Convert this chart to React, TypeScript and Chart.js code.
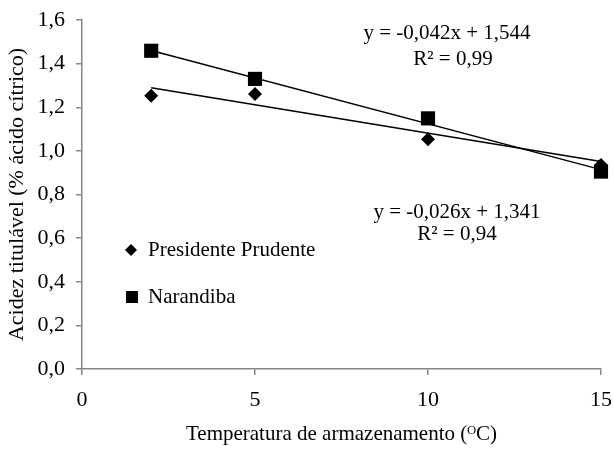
import React, { useEffect, useRef } from "react";
import { Chart, registerables } from "chart.js";

Chart.register(...registerables);

const temperatures = [2, 5, 10, 15];
const presidentePrudente = [1.253, 1.261, 1.053, 0.935];
const narandiba = [1.459, 1.33, 1.149, 0.905];
const trendX = [2, 15];
const trendPresidentePrudente = [1.289, 0.951];
const trendNarandiba = [1.46, 0.914];
const yTicks = [0, 0.2, 0.4, 0.6, 0.8, 1.0, 1.2, 1.4, 1.6];
const xTicks = [0, 5, 10, 15];
const seriesNames = ["Presidente Prudente", "Narandiba"];
const equationNarandiba = ["y = -0,042x + 1,544", "R² = 0,99"];
const equationPresidentePrudente = ["y = -0,026x + 1,341", "R² = 0,94"];

const FONT = "'Liberation Serif', 'Times New Roman', serif";
const AXIS = "#868686";

const overlay = {
  id: "overlay",
  afterDraw(chart: any) {
    const ctx = chart.ctx;
    ctx.save();
    ctx.fillStyle = "#000";
    ctx.font = `21px ${FONT}`;
    ctx.textBaseline = "middle";
    ctx.textAlign = "center";
    ctx.fillText(equationNarandiba[0], 447, 33);
    ctx.fillText(equationNarandiba[1], 453, 59);
    ctx.fillText(equationPresidentePrudente[0], 457, 212);
    ctx.fillText(equationPresidentePrudente[1], 457, 234);
    // legend
    ctx.textAlign = "left";
    ctx.fillText(seriesNames[0], 148, 250);
    ctx.fillText(seriesNames[1], 148, 297);
    ctx.beginPath();
    ctx.moveTo(131, 244);
    ctx.lineTo(137, 250);
    ctx.lineTo(131, 256);
    ctx.lineTo(125, 250);
    ctx.closePath();
    ctx.fill();
    ctx.fillRect(126, 291, 12, 12);
    ctx.restore();
  },
};

export default function App() {
  const ref = useRef<HTMLCanvasElement>(null);
  useEffect(() => {
    document.body.style.margin = "0";
    const ctx = ref.current!.getContext("2d")!;
    const chart = new Chart(ctx, {
      type: "scatter",
      data: {
        datasets: [
          {
            label: seriesNames[1] + " tendência",
            data: trendX.map((x, i) => ({ x, y: trendNarandiba[i] })),
            showLine: true,
            borderColor: "#000",
            borderWidth: 1.5,
            pointRadius: 0,
            clip: false,
          },
          {
            label: seriesNames[0] + " tendência",
            data: trendX.map((x, i) => ({ x, y: trendPresidentePrudente[i] })),
            showLine: true,
            borderColor: "#000",
            borderWidth: 1.5,
            pointRadius: 0,
            clip: false,
          },
          {
            label: seriesNames[0],
            data: temperatures.map((x, i) => ({ x, y: presidentePrudente[i] })),
            pointStyle: "rectRot",
            pointRadius: 7,
            backgroundColor: "#000",
            borderColor: "#000",
            borderWidth: 0,
            clip: false,
          },
          {
            label: seriesNames[1],
            data: temperatures.map((x, i) => ({ x, y: narandiba[i] })),
            pointStyle: "rect",
            pointRadius: 10,
            backgroundColor: "#000",
            borderColor: "#000",
            borderWidth: 0,
            clip: false,
          },
        ],
      },
      options: {
        responsive: false,
        animation: false,
        layout: { padding: { top: 20, right: 13, left: 0, bottom: 0 } },
        plugins: { legend: { display: false }, tooltip: { enabled: false } },
        scales: {
          x: {
            type: "linear",
            min: xTicks[0],
            max: xTicks[xTicks.length - 1],
            afterBuildTicks: (s: any) => {
              s.ticks = xTicks.map((v) => ({ value: v }));
            },
            afterFit: (s: any) => {
              s.height = 80;
              s.paddingLeft = 0;
              s.paddingRight = 0;
            },
            ticks: {
              color: "#000",
              font: { family: FONT, size: 22 },
              padding: 12,
              maxRotation: 0,
              callback: (v: any) => String(v),
            },
            grid: {
              drawOnChartArea: false,
              drawTicks: true,
              tickLength: 6,
              color: AXIS,
              lineWidth: 1.5,
            },
            border: { color: AXIS, width: 1.5 },
            title: {
              display: true,
              text: "Temperatura de armazenamento (ᴼC)",
              color: "#000",
              font: { family: FONT, size: 21 },
              padding: { top: 0, bottom: 2 },
            },
          },
          y: {
            type: "linear",
            min: yTicks[0],
            max: yTicks[yTicks.length - 1],
            afterBuildTicks: (s: any) => {
              s.ticks = yTicks.map((v) => ({ value: v }));
            },
            afterFit: (s: any) => {
              s.width = 82;
              s.paddingTop = 0;
              s.paddingBottom = 0;
            },
            ticks: {
              color: "#000",
              font: { family: FONT, size: 22 },
              padding: 11,
              callback: (v: any) => Number(v).toFixed(1).replace(".", ","),
            },
            grid: {
              drawOnChartArea: false,
              drawTicks: true,
              tickLength: 6,
              color: AXIS,
              lineWidth: 1.5,
            },
            border: { color: AXIS, width: 1.5 },
            title: {
              display: true,
              text: "Acidez titulável (% ácido cítrico)",
              color: "#000",
              font: { family: FONT, size: 22 },
              padding: { top: 4, bottom: 0 },
            },
          },
        },
      },
      plugins: [overlay],
    });
    return () => chart.destroy();
  }, []);
  return (
    <div style={{ width: 614, height: 449 }}>
      <canvas ref={ref} width={614} height={449} style={{ display: "block" }} />
    </div>
  );
}
